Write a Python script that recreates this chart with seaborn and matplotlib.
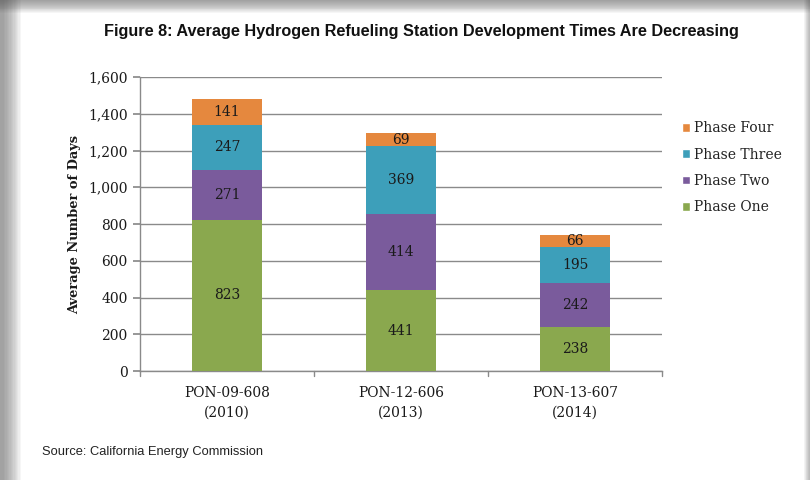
import matplotlib
matplotlib.use("Agg")
import matplotlib.pyplot as plt
from matplotlib.patches import Rectangle, Patch
import seaborn as sns
import pandas as pd

# data
projects = ["PON-09-608\n(2010)", "PON-12-606\n(2013)", "PON-13-607\n(2014)"]
phases = ["Phase One", "Phase Two", "Phase Three", "Phase Four"]
phase_one = [823, 441, 238]
phase_two = [271, 414, 242]
phase_three = [247, 369, 195]
phase_four = [141, 69, 66]
colors = ["#8aa84e", "#7a5b9c", "#3d9fba", "#e5883e"]

sns.set_theme(style="white")
plt.rcParams["font.family"] = ["DejaVu Serif"]

fig = plt.figure(figsize=(8.1, 4.8), dpi=100)
fig.patch.set_facecolor("white")

# soft gray shadow around the white panel
for i in range(14):
    a = 0.05
    fig.patches.append(Rectangle((0, 0), (21 - i * 1.3) / 810, 1, transform=fig.transFigure,
                                 color="#555555", alpha=a, zorder=0, lw=0))
    fig.patches.append(Rectangle((0, 1 - (13 - i * 0.9) / 480), 1, (13 - i * 0.9) / 480,
                                 transform=fig.transFigure, color="#555555", alpha=a, zorder=0, lw=0))
    fig.patches.append(Rectangle((1 - (6 - i * 0.4) / 810, 0), (6 - i * 0.4) / 810, 1,
                                 transform=fig.transFigure, color="#555555", alpha=a * 0.6, zorder=0, lw=0))

ax = fig.add_axes([0.1728, 0.227, 0.6445, 0.6125])
ax.set_facecolor("white")

series = [phase_one, phase_two, phase_three, phase_four]
bottom = [0, 0, 0]
for name, vals, col in zip(phases, series, colors):
    df = pd.DataFrame({"project": projects, "days": vals})
    sns.barplot(data=df, x="project", y="days", color=col, width=0.4,
                bottom=bottom, ax=ax, zorder=3, linewidth=0, saturation=1)
    for i, v in enumerate(vals):
        ax.text(i, bottom[i] + v / 2, f"{v}", ha="center", va="center",
                fontsize=10, color="#1a1a1a", zorder=4)
    bottom = [b + v for b, v in zip(bottom, vals)]

ax.set_ylim(0, 1600)
ax.set_xlim(-0.5, 2.5)
ax.set_yticks(range(0, 1601, 200))
ax.set_yticklabels([f"{t:,}" for t in range(0, 1601, 200)], fontsize=10, color="#1a1a1a")
ax.yaxis.grid(True, color="#8a8a8a", linewidth=1, zorder=0)
ax.set_axisbelow(True)
ax.set_xticks([0, 1, 2])
ax.set_xticklabels(projects, fontsize=10, color="#1a1a1a", linespacing=1.45)
ax.set_xlabel("")
ax.set_ylabel("Average Number of Days", fontsize=9.4, fontweight="bold", labelpad=5,
              color="#1a1a1a")

for s in ["top", "right"]:
    ax.spines[s].set_visible(False)
for s in ["left", "bottom"]:
    ax.spines[s].set_color("#8a8a8a")
    ax.spines[s].set_linewidth(1)
ax.tick_params(axis="y", which="both", left=True, length=5, color="#8a8a8a", pad=4)
ax.tick_params(axis="x", bottom=False, pad=5)
# category separators
for xs in [-0.5, 0.5, 1.5, 2.5]:
    ax.plot([xs, xs], [0, -25], color="#8a8a8a", lw=1, clip_on=False, zorder=2)

handles = [Patch(facecolor=c, label=p) for p, c in zip(phases, colors)][::-1]
leg = fig.legend(handles=handles, loc="upper left", bbox_to_anchor=(0.826, 0.773),
                 frameon=False, fontsize=10, handlelength=0.6, handleheight=0.6,
                 handletextpad=0.3, labelspacing=0.88)
for t in leg.get_texts():
    t.set_color("#222222")

fig.text(0.52, 0.935, "Figure 8: Average Hydrogen Refueling Station Development Times Are Decreasing",
         ha="center", va="center", fontsize=11.7, fontweight="bold",
         family=["Liberation Sans", "DejaVu Sans"], color="#111111")
fig.text(0.052, 0.058, "Source: California Energy Commission", ha="left", va="center",
         fontsize=9.3, family=["Liberation Sans", "DejaVu Sans"], color="#222222")

fig.savefig("out.png", dpi=100, facecolor=fig.get_facecolor())
